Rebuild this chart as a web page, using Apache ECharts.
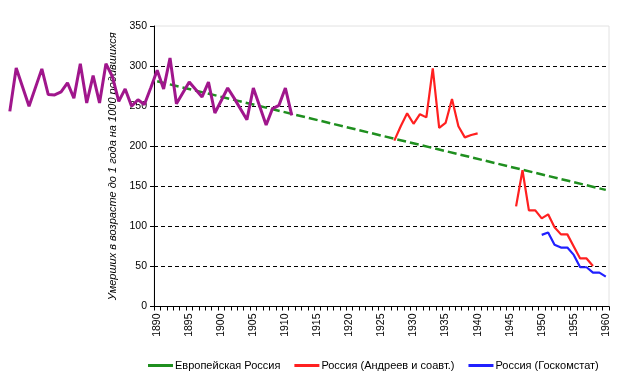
<!DOCTYPE html>
<html><head><meta charset="utf-8">
<script src="https://cdn.jsdelivr.net/npm/echarts@6/dist/echarts.min.js"></script>
<style>html,body{margin:0;padding:0;background:#fff}#c{width:618px;height:378px}</style>
</head><body><div id="c"></div>
<script>
// Category (year) axis labels
const years = [1890,1891,1892,1893,1894,1895,1896,1897,1898,1899,1900,1901,1902,1903,1904,1905,1906,1907,1908,1909,1910,
  1911,1912,1913,1914,1915,1916,1917,1918,1919,1920,1921,1922,1923,1924,1925,1926,1927,1928,1929,1930,
  1931,1932,1933,1934,1935,1936,1937,1938,1939,1940,1941,1942,1943,1944,1945,1946,1947,1948,1949,1950,
  1951,1952,1953,1954,1955,1956,1957,1958,1959,1960];
const yTicks = [0,50,100,150,200,250,300,350];

// Европейская Россия (trend, dashed green)
const greenYears  = [1890, 1960];
const greenValues = [281, 145.5];

// Европейская Россия, annual (purple, not in legend; starts before the axis)
const purpleYears  = [1867,1868,1870,1872,1873,1874,1875,1876,1877,1878,1879,1880,1881,1882,1883,1884,1885,1886,1887,1888,1889,
  1890,1891,1892,1893,1895,1897,1898,1899,1901,1902,1904,1905,1907,1908,1909,1910,1911];
const purpleValues = [243.5,297.7,249.8,296.5,264.4,264,267.7,279,260,303,254,288,254,303,287,256,271.5,250,258,252,273,
  294.8,271.5,310,253,280,261.5,280,241.5,272.6,260,233,272.6,226.5,247,251,272.6,238.5];

// Россия (Андреев и соавт.)  (null = gap)
const redYears  = [1927,1928,1929,1930,1931,1932,1933,1934,1935,1936,1937,1938,1939,1940,1943,
  1946,1947,1948,1949,1950,1951,1952,1953,1954,1955,1956,1957,1958];
const redValues = [207,225,241,228,240,236,297,223,229,259,225,211,214,216,null,
  125,170,120,120,110,115,99,90,90,75,60,60,50.6];

// Россия (Госкомстат)
const blueYears  = [1950,1951,1952,1953,1954,1955,1956,1957,1958,1959,1960];
const blueValues = [89.4,92.3,77,73.5,73.5,64.4,49,49,42.3,42.3,37.3];

const pairs = (xs, ys) => xs.map((x, i) => [x, ys[i] == null ? '-' : ys[i]]);

const FONT = 'Liberation Sans, Arial, sans-serif';
const PLOT_L = 154, PLOT_R = 9, PLOT_T = 26, PLOT_B = 71.5;
const firstYear = years[0] - 0.5, lastYear = years[years.length - 1] + 0.5;
const dataMin = purpleYears[0] - 0.5;
const yearW = (618 - PLOT_L - PLOT_R) / (lastYear - firstYear);
const dataLeft = PLOT_L - (firstYear - dataMin) * yearW;

const lineIcon = 'path://M0,0H25V3H0Z';
const chart = echarts.init(document.getElementById('c'), null, {renderer: 'canvas'});
chart.setOption({
  animation: false,
  backgroundColor: '#fff',
  grid: [
    {left: PLOT_L, right: PLOT_R, top: PLOT_T, bottom: PLOT_B, show: true, borderColor: '#e2e2e2', borderWidth: 1, backgroundColor: '#fff'},
    {left: dataLeft, right: PLOT_R, top: PLOT_T, bottom: PLOT_B, show: false}
  ],
  legend: {
    left: 143, top: 355, itemWidth: 25, itemHeight: 3, itemGap: 14,
    textStyle: {fontFamily: FONT, fontSize: 11, color: '#000', padding: [0, 0, 0, -3]},
    data: [
      {name: 'Европейская Россия', icon: lineIcon},
      {name: 'Россия (Андреев и соавт.)', icon: lineIcon},
      {name: 'Россия (Госкомстат)', icon: lineIcon}
    ]
  },
  xAxis: [
    {type: 'category', gridIndex: 0, data: years.map(String), boundaryGap: true,
     axisLine: {lineStyle: {color: '#000', width: 1}},
     axisTick: {show: true, interval: 0, length: 4, lineStyle: {color: '#000'}},
     axisLabel: {interval: 4, rotate: 90, margin: 7, fontFamily: FONT, fontSize: 10.5, color: '#000'},
     splitLine: {show: false}},
    {type: 'value', gridIndex: 1, min: dataMin, max: lastYear, show: false, splitLine: {show: false}}
  ],
  yAxis: [
    {type: 'value', gridIndex: 0, min: yTicks[0], max: yTicks[yTicks.length - 1], interval: 50,
     name: 'Умерших в возрасте до 1 года на 1000 родившихся',
     nameLocation: 'middle', nameRotate: 90, nameGap: 27,
     nameTextStyle: {fontFamily: FONT, fontSize: 11, fontStyle: 'italic', color: '#000'},
     axisLine: {show: true, lineStyle: {color: '#000', width: 1}},
     axisTick: {show: true, length: 4, lineStyle: {color: '#000'}},
     axisLabel: {margin: 7, fontFamily: FONT, fontSize: 10.5, color: '#000'},
     splitLine: {show: true, showMinLine: false, showMaxLine: false, lineStyle: {color: '#000', type: [4, 3], width: 1}}},
    {type: 'value', gridIndex: 1, min: yTicks[0], max: yTicks[yTicks.length - 1], show: false, splitLine: {show: false}}
  ],
  series: [
    {name: 'Европейская Россия', type: 'line', xAxisIndex: 1, yAxisIndex: 1, symbol: 'none', color: '#1f8f1f',
     lineStyle: {color: '#1f8f1f', width: 2.5, type: [9, 4]}, data: pairs(greenYears, greenValues), z: 3},
    {name: 'Россия (Андреев и соавт.)', type: 'line', xAxisIndex: 1, yAxisIndex: 1, symbol: 'none', color: '#ff2020',
     lineStyle: {color: '#ff2020', width: 2.2}, data: pairs(redYears, redValues), z: 4},
    {name: 'Россия (Госкомстат)', type: 'line', xAxisIndex: 1, yAxisIndex: 1, symbol: 'none', color: '#2020ff',
     lineStyle: {color: '#2020ff', width: 2.2}, data: pairs(blueYears, blueValues), z: 4},
    {name: 'purple', type: 'line', xAxisIndex: 1, yAxisIndex: 1, symbol: 'none', clip: false, color: '#a0168c',
     lineStyle: {color: '#a0168c', width: 3}, data: pairs(purpleYears, purpleValues), z: 5}
  ]
});
</script></body></html>
